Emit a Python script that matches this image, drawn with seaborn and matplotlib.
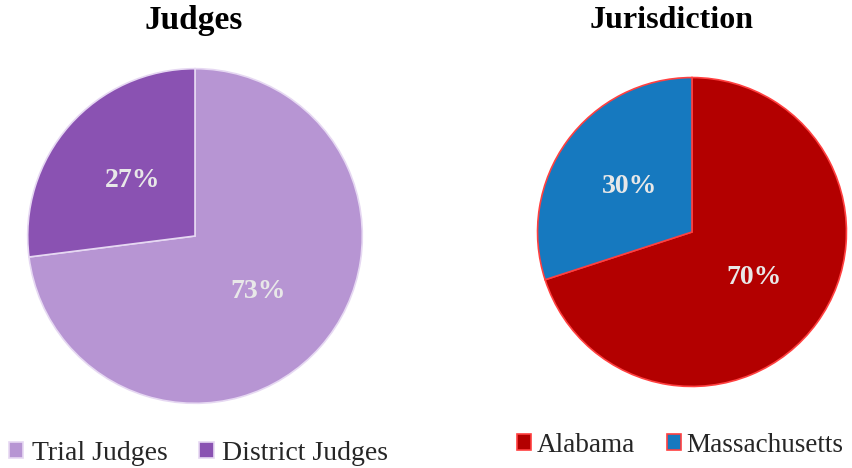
import matplotlib
matplotlib.use("Agg")
import matplotlib.pyplot as plt
import seaborn as sns

sns.set_theme(style="white")
plt.rcParams['font.family'] = ['Liberation Serif', 'DejaVu Serif']

judge_labels = ["Trial Judges", "District Judges"]
judge_values = [73, 27]
judge_colors = ["#b795d3", "#8a52b2"]

jur_labels = ["Alabama", "Massachusetts"]
jur_values = [70, 30]
jur_colors = ["#b30000", "#1679bf"]

W, H = 853, 468
fig = plt.figure(figsize=(W / 100, H / 100), dpi=100)
fig.patch.set_facecolor("white")


def pie_axes(cx, cy, r):
    return fig.add_axes([(cx - r) / W, (H - cy - r) / H, 2 * r / W, 2 * r / H])


def draw(ax, values, colors, edge):
    wedges, _, autotexts = ax.pie(
        values, colors=colors, startangle=90, counterclock=False,
        autopct="%d%%", pctdistance=0.5,
        wedgeprops=dict(linewidth=1.2, edgecolor=edge),
        textprops=dict(color="#e8e8e8", fontsize=20, fontweight="bold"))
    ax.set_xlim(-1.01, 1.01)
    ax.set_ylim(-1.01, 1.01)
    ax.set_aspect("equal")
    ax.axis("off")
    return wedges


ax1 = pie_axes(195, 236, 169)
w1 = draw(ax1, judge_values, judge_colors, "#e6d8f2")
ax2 = pie_axes(692, 232, 156)
w2 = draw(ax2, jur_values, jur_colors, "#ff4040")

fig.text(194 / W, 1 - 21 / H, "Judges", ha="center", va="center",
         fontsize=24, fontweight="bold", color="black")
fig.text(672 / W, 1 - 21 / H, "Jurisdiction", ha="center", va="center",
         fontsize=23, fontweight="bold", color="black")

leg_kw = dict(ncol=2, frameon=False, handlelength=0.52,
              handleheight=0.52, borderpad=0, borderaxespad=0,
              loc="center left")

fig.legend(w1, judge_labels, bbox_to_anchor=(9 / W, 1 - 453 / H),
           fontsize=20, handletextpad=0.29, columnspacing=1.15, **leg_kw)
fig.legend(w2, jur_labels, bbox_to_anchor=(517 / W, 1 - 445 / H),
           fontsize=19.5, handletextpad=0.2, columnspacing=1.2, **leg_kw)

fig.savefig("out.png", dpi=100, facecolor="white")
